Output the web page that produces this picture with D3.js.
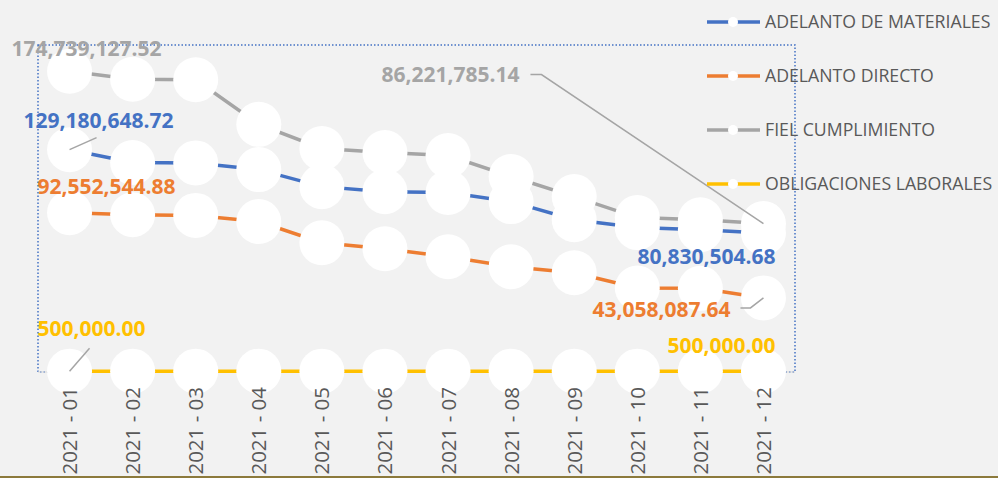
<!DOCTYPE html>
<html>
<head>
<meta charset="utf-8">
<script src="https://cdn.jsdelivr.net/npm/d3@7"></script>
<style>
  html, body { margin: 0; padding: 0; background: #f2f2f2; }
  svg { display: block; font-family: "Open Sans", "DejaVu Sans", sans-serif; }
  .tick-label { fill: #595959; font-size: 20.5px; }
  .legend text { fill: #595959; font-size: 17.7px; }
  .data-label { font-weight: bold; font-size: 21px; }
</style>
</head>
<body>
<svg></svg>
<script>
var months = ["2021 - 01", "2021 - 02", "2021 - 03", "2021 - 04", "2021 - 05", "2021 - 06",
              "2021 - 07", "2021 - 08", "2021 - 09", "2021 - 10", "2021 - 11", "2021 - 12"];

var materiales = [129180648.72, 121700000, 121500000, 117600000, 107700000, 104800000,
                  104300000, 99000000, 88500000, 83900000, 82700000, 80830504.68];
var directo = [92552544.88, 91400000, 91000000, 87400000, 75100000, 71600000,
               67000000, 61200000, 57700000, 48800000, 48600000, 43058087.64];
var fiel = [174739127.52, 170100000, 169800000, 143900000, 129900000, 127500000,
            125800000, 113600000, 101900000, 89700000, 88500000, 86221785.14];
var laborales = [500000, 500000, 500000, 500000, 500000, 500000,
                 500000, 500000, 500000, 500000, 500000, 500000];

var seriesNames = ["ADELANTO DE MATERIALES", "ADELANTO DIRECTO", "FIEL CUMPLIMIENTO", "OBLIGACIONES LABORALES"];
var seriesColors = ["#4472c4", "#ed7d31", "#a5a5a5", "#ffc000"];

var width = 998,
    height = 478;

var svg = d3.select("svg")
  .attr("width", width)
  .attr("height", height);

var plot = { left: 38, right: 795, top: 45, bottom: 372 };

var x = d3.scalePoint()
  .domain(months)
  .range([plot.left, plot.right])
  .padding(0.5);

var y = d3.scaleLinear()
  .domain([0, 190000000])
  .range([plot.bottom, plot.top]);

var series = [materiales, directo, fiel, laborales].map(function(values, i) {
  return {
    name: seriesNames[i],
    color: seriesColors[i],
    points: values.map(function(v, j) { return { month: months[j], value: v }; })
  };
});

// label placement relative to first / last point: [dx, dy, leader]
var labelSpots = [
  { first: [29, -22, "diag"], last: [-57, 31, null] },
  { first: [37, -19, null], last: [-102, 19, "elbow"] },
  { first: [17, -15, null], last: [-313, -142, "long"] },
  { first: [22, -35, "diag"], last: [-42, -18, null] }
];

// bottom frame line
svg.append("line")
  .attr("x1", 0).attr("x2", width)
  .attr("y1", height - 1).attr("y2", height - 1)
  .attr("stroke", "#8c7a3c")
  .attr("stroke-width", 2);

// plot area border (selected look)
svg.append("rect")
  .attr("x", plot.left)
  .attr("y", plot.top)
  .attr("width", plot.right - plot.left)
  .attr("height", plot.bottom - plot.top)
  .attr("fill", "none")
  .attr("stroke", "#4472c4")
  .attr("stroke-width", 1.5)
  .attr("stroke-dasharray", "1.5,2");

// axis line
svg.append("line")
  .attr("x1", plot.left).attr("x2", plot.right)
  .attr("y1", plot.bottom).attr("y2", plot.bottom)
  .attr("stroke", "#d9d9d9")
  .attr("stroke-width", 1);

var line = d3.line()
  .x(function(d) { return x(d.month); })
  .y(function(d) { return y(d.value); });

var lines = svg.append("g").attr("class", "lines");
var markers = svg.append("g").attr("class", "markers");

series.forEach(function(s) {
  lines.append("path")
    .datum(s.points)
    .attr("fill", "none")
    .attr("stroke", s.color)
    .attr("stroke-width", 3.5)
    .attr("d", line);
});

series.forEach(function(s) {
  markers.selectAll(null)
    .data(s.points)
    .enter().append("circle")
      .attr("cx", function(d) { return x(d.month); })
      .attr("cy", function(d) { return y(d.value); })
      .attr("r", 22.5)
      .attr("fill", "#ffffff");
});

// x axis labels
svg.append("g")
    .attr("class", "x-axis")
  .selectAll("text")
  .data(months)
  .enter().append("text")
    .attr("class", "tick-label")
    .attr("transform", function(d) { return "translate(" + (x(d) + 7.5) + "," + 387 + ") rotate(-90)"; })
    .attr("text-anchor", "end")
    .text(function(d) { return d; });

// data labels + leader lines
var fmt = d3.format(",.2f");
var labels = svg.append("g").attr("class", "labels");

series.forEach(function(s, i) {
  ["first", "last"].forEach(function(which) {
    var p = which === "first" ? s.points[0] : s.points[s.points.length - 1];
    var spot = labelSpots[i][which];
    var px = x(p.month), py = y(p.value);
    var tx = px + spot[0], ty = py + spot[1];

    if (spot[2] === "diag") {
      labels.append("line")
        .attr("x1", px).attr("y1", py)
        .attr("x2", px + (i === 0 ? 27 : 20)).attr("y2", py - (i === 0 ? 12 : 23))
        .attr("stroke", "#a5a5a5").attr("stroke-width", 1.5);
    } else if (spot[2] === "elbow") {
      labels.append("polyline")
        .attr("points", [[tx + 79, ty - 9], [tx + 89, ty - 9], [px, py]].join(" "))
        .attr("fill", "none")
        .attr("stroke", "#a5a5a5").attr("stroke-width", 1.5);
    } else if (spot[2] === "long") {
      labels.append("polyline")
        .attr("points", [[tx + 80, ty - 7], [tx + 91, ty - 7], [px, py]].join(" "))
        .attr("fill", "none")
        .attr("stroke", "#a5a5a5").attr("stroke-width", 1.5);
    }

    labels.append("text")
      .attr("class", "data-label")
      .attr("x", tx)
      .attr("y", ty)
      .attr("text-anchor", "middle")
      .attr("fill", s.color)
      .text(fmt(p.value));
  });
});

// legend
var legend = svg.append("g")
    .attr("class", "legend")
  .selectAll("g")
  .data(series)
  .enter().append("g")
    .attr("transform", function(d, i) { return "translate(0," + (22 + i * 54) + ")"; });

legend.append("line")
  .attr("x1", 707).attr("x2", 760)
  .attr("y1", 0).attr("y2", 0)
  .attr("stroke", function(d) { return d.color; })
  .attr("stroke-width", 3.5);

legend.append("circle")
  .attr("cx", 733).attr("cy", 0)
  .attr("r", 5)
  .attr("fill", "#ffffff");

legend.append("text")
  .attr("x", 765)
  .attr("y", 0)
  .attr("dy", "0.35em")
  .text(function(d) { return d.name; });
</script>
</body>
</html>
